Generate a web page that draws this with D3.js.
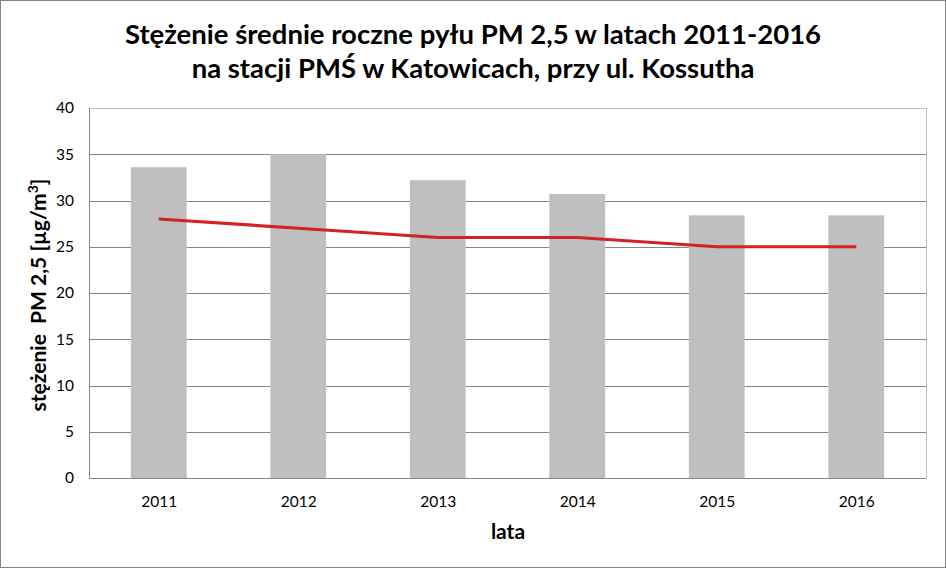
<!DOCTYPE html>
<html><head><meta charset="utf-8">
<script src="https://cdn.jsdelivr.net/npm/d3@7/dist/d3.min.js"></script>
<style>body{margin:0;background:#fff}svg{display:block}text{font-family:Lato,"Open Sans",sans-serif}</style>
</head><body><svg id="c" width="946" height="568"></svg>
<script>
const years = ["2011","2012","2013","2014","2015","2016"];
const annualMean = [33.6, 35.0, 32.2, 30.7, 28.4, 28.4];
const limitValue = [28, 27, 26, 26, 25, 25];
const yTicks = [0,5,10,15,20,25,30,35,40];
const titleLines = ["Stężenie średnie roczne pyłu PM 2,5 w latach 2011-2016","na stacji PMŚ w Katowicach, przy ul. Kossutha"];

const svg = d3.select("#c");
const W=946,H=568, m={l:89,r:20,t:108,b:90};
svg.append("rect").attr("x",0.5).attr("y",0.5).attr("width",W-1).attr("height",H-1).attr("fill","#fff").attr("stroke","#868686");

const x = d3.scaleBand().domain(years).range([m.l,W-m.r]).paddingInner(0.6).paddingOuter(0.3);
const xc = d3.scalePoint().domain(years).range([m.l,W-m.r]).padding(0.5);
const y = d3.scaleLinear().domain([0,40]).range([H-m.b,m.t]);

svg.append("rect").attr("x",m.l+0.5).attr("y",m.t+0.5).attr("width",W-m.r-m.l).attr("height",H-m.b-m.t).attr("fill","none").attr("stroke","#bfbfbf");
svg.append("g").selectAll("line").data(yTicks.filter(d=>d>0&&d<40)).join("line")
  .attr("x1",m.l).attr("x2",W-m.r).attr("y1",d=>Math.round(y(d))+0.5).attr("y2",d=>Math.round(y(d))+0.5)
  .attr("stroke","#868686").attr("stroke-width",1);

svg.append("g").selectAll("rect").data(years).join("rect")
  .attr("x",d=>x(d)).attr("width",x.bandwidth())
  .attr("y",(d,i)=>y(annualMean[i])).attr("height",(d,i)=>y(0)-y(annualMean[i]))
  .attr("fill","#bfbfbf");

svg.append("line").attr("x1",m.l+0.5).attr("x2",m.l+0.5).attr("y1",m.t).attr("y2",H-m.b).attr("stroke","#868686");
svg.append("line").attr("x1",m.l).attr("x2",W-m.r).attr("y1",Math.round(y(0))+0.5).attr("y2",Math.round(y(0))+0.5).attr("stroke","#868686");

const line = d3.line().x((d,i)=>xc(years[i])).y(d=>y(d));
svg.append("path").datum(limitValue).attr("d",line).attr("fill","none").attr("stroke","#d42121").attr("stroke-width",3.2);

const yAxis = d3.axisLeft(y).tickValues(yTicks).tickSize(0).tickPadding(15);
const ga = svg.append("g").attr("transform",`translate(${m.l},0)`).call(yAxis);
ga.select(".domain").remove();
ga.selectAll("text").attr("font-size",15.5).attr("fill","#000").style("font-family","Lato, sans-serif");

const xAxis = d3.axisBottom(xc).tickSize(0).tickPadding(18);
const gx = svg.append("g").attr("transform",`translate(0,${y(0)})`).call(xAxis);
gx.select(".domain").remove();
gx.selectAll("text").attr("font-size",15.5).attr("fill","#000").style("font-family","Lato, sans-serif");

svg.append("g").selectAll("text").data(titleLines).join("text")
  .attr("x",473).attr("y",(d,i)=>44+i*34).attr("text-anchor","middle")
  .attr("font-size",27.5).attr("font-weight","bold").text(d=>d);

svg.append("text").attr("x",508).attr("y",539).attr("text-anchor","middle").attr("font-size",21).attr("font-weight","bold").text("lata");

const yl = svg.append("text").attr("transform","translate(46,295) rotate(-90)").attr("text-anchor","middle").attr("font-size",21).attr("font-weight","bold").style("white-space","pre");
yl.append("tspan").text("stężenie  PM 2,5 [µg/m");
yl.append("tspan").attr("baseline-shift","super").attr("font-size",14).text("3");
yl.append("tspan").text("]");
</script></body></html>
